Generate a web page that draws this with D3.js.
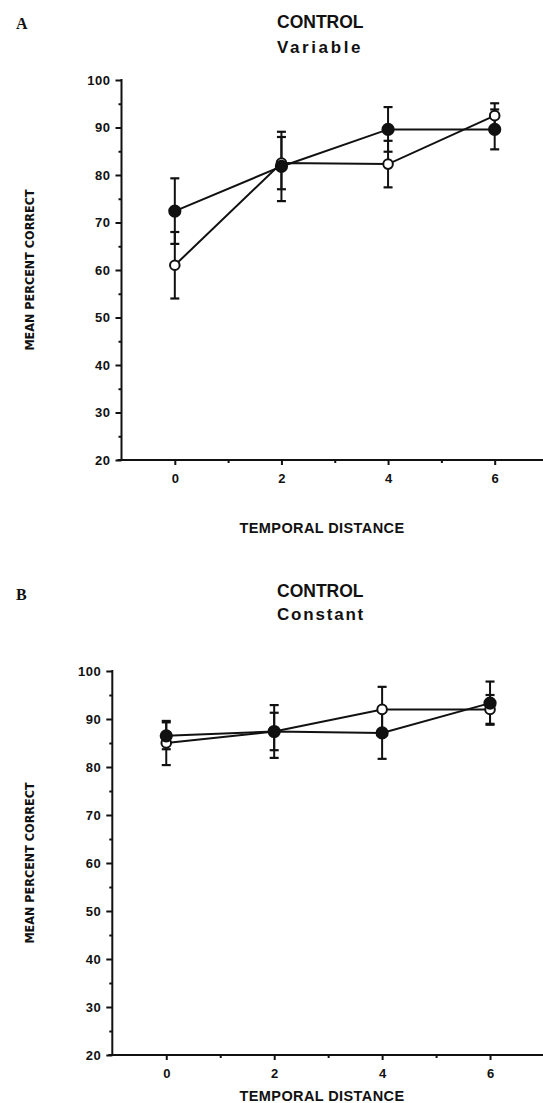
<!DOCTYPE html>
<html>
<head>
<meta charset="utf-8">
<script src="https://cdn.jsdelivr.net/npm/d3@7"></script>
<style>
  html, body { margin: 0; padding: 0; background: #fff; }
  svg { display: block; }
  text { fill: #111; }
</style>
</head>
<body>
<svg id="chart" width="543" height="1103"></svg>
<script>
// ---- data ----
const distances = [0, 2, 4, 6];
const xTicks = [0, 2, 4, 6];
const yTicks = [20, 30, 40, 50, 60, 70, 80, 90, 100];

// Panel A: CONTROL Variable
const aFilledMean = [72.4, 81.8, 89.6, 89.6];
const aFilledErr  = [6.9, 7.3, 4.7, 4.2];
const aOpenMean   = [61.0, 82.5, 82.3, 92.5];
const aOpenErr    = [7.0, 5.5, 4.9, 2.6];

// Panel B: CONTROL Constant
const bFilledMean = [86.5, 87.4, 87.1, 93.3];
const bFilledErr  = [2.8, 3.9, 5.4, 4.5];
const bOpenMean   = [85.0, 87.4, 92.0, 92.0];
const bOpenErr    = [4.6, 5.5, 4.7, 3.0];

const panels = [
  { letter: "A", title1: "CONTROL", title2: "Variable", t2spacing: 2.6,
    filled: aFilledMean, filledErr: aFilledErr, open: aOpenMean, openErr: aOpenErr,
    xRange: [121.5, 548], yRange: [460, 80],
    letterY: 29, t1Y: 28, t2Y: 53, xlabY: 533, tickLabY: 483, ylabX: 34 },
  { letter: "B", title1: "CONTROL", title2: "Constant", t2spacing: 1.8,
    filled: bFilledMean, filledErr: bFilledErr, open: bOpenMean, openErr: bOpenErr,
    xRange: [112.3, 544], yRange: [1055, 671],
    letterY: 600, t1Y: 597, t2Y: 620, xlabY: 1101, tickLabY: 1078, ylabX: 34 }
];

const svg = d3.select("#chart");
const ink = "#111";

panels.forEach(p => {
  const g = svg.append("g");
  const x = d3.scaleLinear().domain([-1, 7]).range(p.xRange);
  const y = d3.scaleLinear().domain([20, 100]).range(p.yRange);

  // panel letter
  g.append("text").attr("x", 16).attr("y", p.letterY)
    .attr("font-family", "Liberation Serif, DejaVu Serif, serif")
    .attr("font-weight", "bold").attr("font-size", 16).text(p.letter);

  // titles
  g.append("text").attr("x", 277).attr("y", p.t1Y)
    .attr("font-family", "Liberation Sans, Arial, sans-serif")
    .attr("font-weight", "bold").attr("font-size", 17.5).text(p.title1);
  g.append("text").attr("x", 277).attr("y", p.t2Y)
    .attr("font-family", "Liberation Sans, Arial, sans-serif")
    .attr("font-weight", "bold").attr("font-size", 17)
    .attr("letter-spacing", p.t2spacing).text(p.title2);

  // x axis (major)
  const xAxis = d3.axisBottom(x).tickValues(xTicks).tickSize(5).tickPadding(6)
    .tickFormat(d3.format("d"));
  const gx = g.append("g").attr("transform", `translate(0,${y(20)})`).call(xAxis);
  gx.select(".domain").remove();
  gx.append("line").attr("x1", x(-1) - 4).attr("x2", x(7)).attr("y1", 0).attr("y2", 0)
    .attr("stroke", ink).attr("stroke-width", 2);
  gx.selectAll(".tick line").attr("stroke", ink).attr("stroke-width", 2);
  gx.selectAll(".tick text")
    .attr("font-family", "Liberation Sans, Arial, sans-serif")
    .attr("font-weight", "bold").attr("font-size", 13).attr("fill", ink)
    .attr("dy", null).attr("y", p.tickLabY - y(20));
  // minor x ticks
  const xMinor = d3.axisBottom(x).tickValues([1, 3, 5]).tickSize(3).tickFormat("");
  const gxm = g.append("g").attr("transform", `translate(0,${y(20)})`).call(xMinor);
  gxm.select(".domain").remove();
  gxm.selectAll(".tick line").attr("stroke", ink).attr("stroke-width", 2);

  // y axis (major)
  const yAxis = d3.axisLeft(y).tickValues(yTicks).tickSize(6).tickPadding(5)
    .tickFormat(d3.format("d"));
  const gy = g.append("g").attr("transform", `translate(${x(-1)},0)`).call(yAxis);
  gy.select(".domain").remove();
  gy.append("line").attr("x1", 0).attr("x2", 0).attr("y1", y(100) - 1).attr("y2", y(20) + 1)
    .attr("stroke", ink).attr("stroke-width", 2);
  gy.selectAll(".tick line").attr("stroke", ink).attr("stroke-width", 2);
  gy.selectAll(".tick text")
    .attr("font-family", "Liberation Sans, Arial, sans-serif")
    .attr("font-weight", "bold").attr("font-size", 13).attr("fill", ink)
    .attr("letter-spacing", 0.5);
  // minor y ticks
  const yMinor = d3.axisLeft(y).tickValues([25, 35, 45, 55, 65, 75, 85, 95]).tickSize(3).tickFormat("");
  const gym = g.append("g").attr("transform", `translate(${x(-1)},0)`).call(yMinor);
  gym.select(".domain").remove();
  gym.selectAll(".tick line").attr("stroke", ink).attr("stroke-width", 2);

  // axis labels
  g.append("text")
    .attr("transform", `translate(${p.ylabX},${(p.yRange[0] + p.yRange[1]) / 2}) rotate(-90)`)
    .attr("text-anchor", "middle")
    .attr("font-family", "Liberation Sans Narrow, DejaVu Sans Condensed, Arial, sans-serif")
    .attr("font-weight", "bold").attr("font-size", 12.5)
    .text("MEAN PERCENT CORRECT");
  g.append("text").attr("x", 322).attr("y", p.xlabY).attr("text-anchor", "middle")
    .attr("font-family", "Liberation Sans, Arial, sans-serif")
    .attr("font-weight", "bold").attr("font-size", 14.5).attr("letter-spacing", 0.4)
    .text("TEMPORAL DISTANCE");

  // series
  const series = [
    { mean: p.open, err: p.openErr, fill: "#fff", r: 4.8 },
    { mean: p.filled, err: p.filledErr, fill: ink, r: 5.6 }
  ];
  const line = d3.line().x((d, i) => x(distances[i])).y(d => y(d));

  series.forEach(s => {
    // error bars
    const eb = g.append("g");
    s.mean.forEach((m, i) => {
      const cx = x(distances[i]);
      eb.append("line").attr("x1", cx).attr("x2", cx)
        .attr("y1", y(m - s.err[i])).attr("y2", y(m + s.err[i]))
        .attr("stroke", ink).attr("stroke-width", 2);
      [m - s.err[i], m + s.err[i]].forEach(v => {
        eb.append("line").attr("x1", cx - 4.5).attr("x2", cx + 4.5)
          .attr("y1", y(v)).attr("y2", y(v))
          .attr("stroke", ink).attr("stroke-width", 2.2);
      });
    });
  });
  series.forEach(s => {
    g.append("path").datum(s.mean).attr("d", line)
      .attr("fill", "none").attr("stroke", ink).attr("stroke-width", 2);
  });
  series.forEach(s => {
    g.append("g").selectAll("circle").data(s.mean).join("circle")
      .attr("cx", (d, i) => x(distances[i])).attr("cy", d => y(d))
      .attr("r", s.r).attr("fill", s.fill).attr("stroke", ink).attr("stroke-width", 2);
  });
});
</script>
</body>
</html>
